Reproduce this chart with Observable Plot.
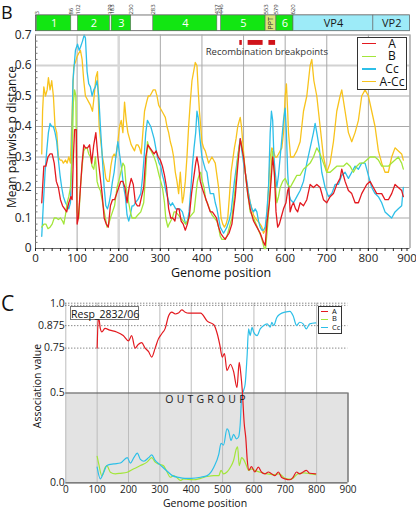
<!DOCTYPE html>
<html><head><meta charset="utf-8">
<script src="https://cdn.jsdelivr.net/npm/d3@7"></script>
<script src="https://cdn.jsdelivr.net/npm/@observablehq/plot@0.6"></script>
<style>
body{margin:0;background:#fff;font-family:"Open Sans",sans-serif;}
#wrap{position:relative;width:416px;height:508px;overflow:hidden;background:#fff;}
#wrap > *{position:absolute;}
.lbl{white-space:nowrap;line-height:1;color:#111;}
</style></head><body><div id="wrap"></div>
<script>
// ---------- Panel B data ----------
const distA = [[15,0.15],[20,0.27],[25,0.27],[30,0.30],[35,0.31],[40,0.31],[45,0.28],[50,0.22],[55,0.20],[60,0.16],[65,0.14],[70,0.13],[75,0.12],[80,0.15],[85,0.17],[88,0.16],[91,0.30],[94,0.39],[98,0.39],[100,0.08],[103,0.10],[107,0.18],[112,0.28],[116,0.34],[120,0.33],[125,0.33],[130,0.34],[135,0.28],[140,0.34],[145,0.38],[150,0.30],[155,0.24],[160,0.18],[165,0.10],[170,0.08],[175,0.07],[180,0.14],[185,0.16],[190,0.16],[195,0.18],[200,0.20],[205,0.22],[210,0.22],[215,0.20],[220,0.15],[225,0.20],[230,0.23],[235,0.21],[240,0.15],[245,0.14],[250,0.14],[255,0.17],[260,0.20],[265,0.30],[270,0.34],[275,0.33],[280,0.32],[285,0.31],[290,0.32],[295,0.30],[300,0.29],[305,0.27],[310,0.24],[315,0.20],[320,0.13],[325,0.10],[330,0.10],[335,0.09],[340,0.13],[345,0.13],[350,0.09],[355,0.08],[360,0.06],[365,0.08],[370,0.11],[375,0.18],[380,0.23],[385,0.28],[388,0.30],[392,0.27],[396,0.22],[400,0.20],[405,0.18],[410,0.16],[415,0.14],[420,0.12],[425,0.12],[430,0.11],[435,0.10],[440,0.07],[445,0.05],[450,0.04],[456,0.03],[460,0.04],[465,0.05],[472,0.08],[480,0.17],[486,0.27],[492,0.36],[496,0.33],[500,0.30],[505,0.24],[510,0.18],[516,0.13],[524,0.09],[532,0.07],[540,0.05],[548,0.02],[552,0.01],[556,0.08],[562,0.15],[566,0.22],[570,0.30],[574,0.25],[578,0.12],[582,0.07],[586,0.08],[590,0.10],[596,0.13],[602,0.15],[606,0.19],[609,0.20],[612,0.12],[616,0.14],[620,0.15],[625,0.13],[630,0.12],[636,0.15],[644,0.14],[652,0.16],[660,0.21],[668,0.20],[676,0.21],[684,0.20],[692,0.16],[700,0.15],[708,0.17],[716,0.18],[724,0.21],[732,0.23],[736,0.26],[744,0.22],[752,0.19],[760,0.18],[768,0.15],[776,0.15],[784,0.18],[796,0.21],[804,0.22],[812,0.20],[820,0.18],[832,0.18],[840,0.16],[848,0.16],[856,0.18],[864,0.21],[872,0.20],[880,0.19],[884,0.17]];
const distB = [[15,0.07],[20,0.08],[25,0.08],[30,0.065],[35,0.07],[40,0.08],[45,0.10],[50,0.10],[55,0.095],[60,0.10],[65,0.09],[68,0.08],[72,0.11],[76,0.15],[80,0.17],[84,0.20],[88,0.30],[91,0.48],[94,0.52],[97,0.50],[100,0.12],[104,0.10],[108,0.20],[112,0.27],[116,0.32],[120,0.33],[124,0.33],[128,0.31],[132,0.30],[136,0.27],[140,0.26],[144,0.30],[148,0.22],[152,0.20],[156,0.19],[160,0.16],[164,0.13],[168,0.10],[172,0.07],[176,0.08],[180,0.10],[185,0.12],[190,0.14],[196,0.20],[200,0.22],[205,0.25],[210,0.28],[214,0.27],[218,0.20],[224,0.15],[228,0.12],[232,0.10],[240,0.10],[246,0.11],[253,0.12],[260,0.15],[265,0.25],[269,0.35],[273,0.33],[278,0.32],[285,0.30],[290,0.28],[297,0.24],[305,0.20],[310,0.15],[313,0.10],[318,0.07],[321,0.08],[325,0.09],[329,0.10],[333,0.12],[337,0.12],[343,0.11],[349,0.10],[355,0.09],[361,0.08],[365,0.09],[369,0.10],[375,0.11],[381,0.12],[385,0.17],[389,0.22],[393,0.24],[397,0.25],[401,0.22],[405,0.20],[409,0.16],[413,0.15],[418,0.13],[424,0.11],[430,0.10],[436,0.09],[440,0.07],[444,0.04],[448,0.03],[454,0.03],[460,0.04],[466,0.07],[472,0.10],[480,0.20],[486,0.30],[490,0.34],[494,0.35],[498,0.32],[502,0.28],[508,0.20],[516,0.12],[524,0.10],[530,0.08],[536,0.06],[542,0.04],[546,0.02],[550,0.0],[553,0.0],[557,0.06],[562,0.15],[566,0.25],[569,0.32],[573,0.26],[577,0.20],[580,0.15],[584,0.17],[588,0.20],[594,0.22],[600,0.23],[606,0.21],[612,0.20],[620,0.22],[628,0.24],[636,0.24],[644,0.26],[652,0.27],[660,0.28],[668,0.30],[676,0.33],[684,0.31],[692,0.28],[700,0.25],[708,0.25],[716,0.26],[724,0.27],[732,0.27],[740,0.27],[748,0.28],[756,0.27],[764,0.25],[772,0.27],[780,0.28],[788,0.28],[796,0.29],[804,0.30],[816,0.30],[824,0.29],[832,0.27],[840,0.27],[848,0.27],[856,0.28],[864,0.29],[872,0.30],[880,0.28],[884,0.26]];
const distCc = [[15,0.04],[19,0.15],[23,0.25],[27,0.32],[31,0.38],[35,0.41],[39,0.40],[43,0.40],[47,0.38],[51,0.35],[55,0.29],[59,0.24],[63,0.20],[67,0.17],[72,0.15],[76,0.14],[80,0.13],[84,0.15],[87,0.30],[90,0.55],[93,0.60],[96,0.65],[101,0.67],[105,0.65],[108,0.66],[113,0.68],[117,0.70],[120,0.69],[124,0.58],[128,0.54],[132,0.53],[136,0.50],[140,0.52],[144,0.53],[148,0.55],[152,0.50],[156,0.40],[160,0.31],[165,0.20],[169,0.14],[173,0.13],[177,0.15],[181,0.18],[185,0.22],[189,0.25],[193,0.30],[198,0.35],[203,0.30],[208,0.25],[212,0.20],[216,0.17],[220,0.11],[224,0.09],[228,0.11],[232,0.14],[236,0.14],[240,0.15],[246,0.16],[253,0.18],[257,0.23],[261,0.30],[265,0.38],[269,0.42],[273,0.41],[277,0.40],[281,0.38],[285,0.36],[289,0.33],[293,0.30],[297,0.28],[301,0.27],[305,0.24],[309,0.22],[313,0.19],[317,0.17],[321,0.15],[325,0.14],[329,0.15],[333,0.14],[337,0.13],[341,0.13],[347,0.13],[353,0.12],[357,0.10],[361,0.08],[365,0.09],[369,0.12],[373,0.19],[377,0.27],[381,0.33],[385,0.38],[388,0.45],[391,0.43],[396,0.35],[400,0.30],[404,0.28],[408,0.26],[412,0.25],[416,0.21],[420,0.18],[428,0.18],[432,0.15],[436,0.13],[440,0.10],[444,0.07],[448,0.06],[452,0.05],[456,0.06],[460,0.07],[465,0.09],[470,0.12],[474,0.17],[478,0.22],[482,0.26],[486,0.30],[490,0.34],[492,0.36],[496,0.32],[500,0.28],[504,0.25],[508,0.22],[512,0.18],[516,0.15],[520,0.13],[524,0.12],[528,0.13],[532,0.12],[536,0.09],[540,0.07],[544,0.06],[548,0.06],[552,0.07],[556,0.12],[560,0.20],[564,0.38],[567,0.45],[570,0.42],[573,0.30],[576,0.25],[580,0.20],[584,0.24],[588,0.30],[592,0.36],[596,0.42],[600,0.46],[603,0.38],[606,0.25],[609,0.18],[613,0.16],[620,0.15],[628,0.17],[636,0.19],[644,0.22],[652,0.28],[660,0.33],[668,0.38],[672,0.41],[676,0.38],[682,0.33],[688,0.25],[696,0.20],[704,0.17],[712,0.18],[720,0.21],[728,0.21],[736,0.24],[744,0.25],[752,0.23],[760,0.25],[768,0.27],[776,0.26],[784,0.28],[792,0.28],[800,0.24],[808,0.20],[816,0.18],[824,0.17],[832,0.15],[840,0.12],[848,0.11],[856,0.10],[864,0.12],[872,0.13],[880,0.14],[884,0.20]];
const distACc = [[15,0.31],[17,0.45],[20,0.53],[24,0.50],[28,0.52],[31,0.56],[35,0.52],[39,0.55],[43,0.50],[47,0.40],[51,0.38],[55,0.30],[59,0.29],[63,0.29],[67,0.28],[72,0.29],[76,0.28],[80,0.30],[84,0.28],[88,0.45],[92,0.60],[96,0.61],[100,0.63],[104,0.64],[108,0.65],[112,0.62],[116,0.55],[120,0.50],[124,0.49],[128,0.48],[132,0.47],[137,0.45],[141,0.50],[145,0.56],[149,0.58],[153,0.40],[157,0.35],[161,0.30],[165,0.27],[169,0.23],[173,0.22],[177,0.22],[181,0.27],[185,0.30],[189,0.31],[193,0.30],[198,0.35],[202,0.40],[206,0.42],[210,0.38],[214,0.48],[218,0.42],[222,0.38],[226,0.36],[230,0.34],[234,0.33],[238,0.32],[242,0.34],[246,0.34],[250,0.33],[254,0.31],[258,0.38],[262,0.45],[267,0.48],[271,0.50],[275,0.50],[279,0.51],[283,0.52],[288,0.52],[292,0.50],[296,0.47],[300,0.46],[304,0.45],[308,0.44],[312,0.43],[316,0.40],[320,0.38],[324,0.35],[328,0.33],[332,0.30],[336,0.25],[340,0.22],[344,0.18],[348,0.25],[353,0.15],[356,0.17],[360,0.22],[364,0.30],[368,0.40],[372,0.48],[376,0.55],[380,0.58],[384,0.61],[388,0.60],[391,0.52],[394,0.45],[397,0.40],[400,0.35],[404,0.33],[408,0.32],[412,0.30],[416,0.28],[420,0.29],[424,0.30],[428,0.29],[432,0.28],[436,0.24],[440,0.20],[443,0.15],[446,0.10],[450,0.08],[454,0.07],[458,0.08],[462,0.10],[466,0.17],[470,0.25],[474,0.29],[478,0.33],[482,0.36],[486,0.40],[490,0.42],[492,0.43],[495,0.40],[498,0.35],[501,0.30],[504,0.25],[508,0.21],[512,0.18],[516,0.15],[520,0.13],[524,0.11],[528,0.10],[534,0.09],[540,0.08],[544,0.07],[548,0.05],[552,0.06],[556,0.10],[560,0.20],[564,0.30],[568,0.33],[572,0.32],[576,0.30],[580,0.30],[584,0.31],[588,0.32],[592,0.33],[596,0.38],[600,0.50],[603,0.54],[606,0.45],[608,0.38],[613,0.30],[620,0.30],[628,0.32],[636,0.35],[644,0.45],[652,0.50],[660,0.60],[664,0.62],[669,0.55],[676,0.50],[684,0.40],[692,0.30],[700,0.25],[708,0.28],[716,0.35],[724,0.45],[732,0.50],[736,0.52],[744,0.45],[752,0.38],[760,0.35],[768,0.38],[776,0.42],[784,0.50],[792,0.52],[800,0.50],[808,0.45],[816,0.40],[824,0.32],[832,0.28],[840,0.25],[848,0.25],[856,0.30],[864,0.33],[872,0.32],[880,0.31],[884,0.29]];
const xTicks = [0,100,200,300,400,500,600,700,800,900];
const yTicksB = [0,0.1,0.2,0.3,0.4,0.5,0.6,0.7];
// genome map
const mapNames = ["1","2","3","4","5","PPT","6","VP4","VP2"];
const mapStart = [3,102,183,283,446,553,579,620,812];
const mapEnd   = [86,179,230,437,553,579,620,812,900];
const mapPositions = [3,86,102,179,183,230,283,437,446,553,579,620];
const recombStart = [491,511,561];
const recombEnd   = [497,547,577];

// ---------- Panel C data ----------
const assocA = [[100,0.75],[104,0.93],[110,0.86],[115,0.84],[125,0.86],[140,0.85],[162,0.84],[183,0.82],[200,0.79],[210,0.82],[221,0.75],[231,0.77],[242,0.78],[253,0.75],[264,0.73],[274,0.70],[285,0.75],[295,0.80],[306,0.83],[317,0.86],[328,0.93],[338,0.95],[349,0.94],[359,0.945],[370,0.963],[381,0.95],[392,0.945],[430,0.945],[451,0.90],[472,0.88],[483,0.83],[491,0.77],[499,0.70],[506,0.72],[514,0.625],[525,0.66],[535,0.62],[546,0.53],[553,0.67],[558,0.61],[563,0.51],[569,0.33],[574,0.25],[579,0.12],[584,0.07],[592,0.09],[603,0.06],[614,0.087],[624,0.06],[635,0.05],[646,0.06],[656,0.05],[667,0.04],[678,0.06],[688,0.031],[699,0.022],[715,0.017],[725,0.031],[736,0.06],[746,0.05],[757,0.06],[767,0.069],[778,0.053],[797,0.05]];
const assocB = [[100,0.147],[105,0.105],[115,0.04],[126,0.087],[131,0.096],[142,0.059],[158,0.05],[174,0.053],[196,0.059],[217,0.078],[238,0.096],[259,0.115],[274,0.14],[285,0.115],[295,0.105],[311,0.096],[323,0.06],[333,0.031],[344,0.04],[355,0.028],[365,0.013],[376,0.022],[386,0.02],[408,0.017],[430,0.025],[451,0.035],[472,0.04],[488,0.04],[495,0.069],[503,0.05],[514,0.06],[525,0.087],[535,0.124],[544,0.19],[548,0.2],[553,0.096],[561,0.14],[567,0.13],[574,0.105],[583,0.069],[594,0.078],[603,0.069],[620,0.059],[640,0.05],[660,0.045],[680,0.05],[700,0.025],[720,0.02],[740,0.05],[760,0.055],[780,0.05],[797,0.045]];
const assocCc = [[100,0.087],[110,0.022],[121,0.059],[131,0.096],[153,0.105],[174,0.11],[196,0.14],[206,0.11],[217,0.14],[228,0.165],[238,0.13],[249,0.12],[264,0.14],[274,0.155],[285,0.125],[301,0.10],[320,0.07],[340,0.04],[360,0.03],[380,0.025],[400,0.025],[430,0.031],[451,0.04],[472,0.087],[488,0.16],[495,0.22],[503,0.21],[514,0.30],[519,0.29],[527,0.235],[535,0.27],[544,0.245],[551,0.255],[556,0.32],[561,0.48],[567,0.514],[572,0.55],[578,0.70],[583,0.857],[588,0.82],[594,0.866],[599,0.84],[610,0.82],[620,0.857],[631,0.876],[642,0.885],[652,0.866],[657,0.894],[663,0.876],[673,0.92],[684,0.94],[699,0.95],[715,0.955],[725,0.93],[736,0.876],[746,0.894],[757,0.885],[767,0.857],[778,0.885],[797,0.89]];
const yTicksC = [0,0.5,0.75,0.875,1];
const yTickLabelsC = ["0.0","0.5","0.75","0.875","1.0"];

// ---------- colours / styles ----------
const cA = "#e3191f", cB = "#a3e63a", cCc = "#2dbfe8", cACc = "#f8c31c";
const green = "#12e612", vp = "#9debf8", ppt = "#dbe57a";

const wrap = document.getElementById("wrap");
const segs = mapNames.map((n,i)=>({name:n, x1:mapStart[i], x2:mapEnd[i], kind: n==="PPT"?"ppt":(n.startsWith("VP")?"vp":"g")}));
const recomb = recombStart.map((s,i)=>({x1:s, x2:recombEnd[i]}));
const P = d=>d[0], V = d=>d[1];

// ---------- Panel B ----------
const plotB = Plot.plot({
  width: 416, height: 285, marginLeft: 35, marginRight: 6.5, marginTop: 4, marginBottom: 37,
  x: {domain:[0,900]}, y: {domain:[0,0.8]},
  style: {fontFamily:"Open Sans, sans-serif", fontSize:"11px", color:"#222", background:"transparent", overflow:"visible"},
  marks: [
    Plot.ruleY(yTicksB.filter(d=>d>0 && d!==0.6), {x1:0, x2:900, stroke:"#a9a9a9", strokeWidth:1}),
    Plot.ruleY([0.6], {x1:0, x2:900, stroke:"#d2d2d2", strokeWidth:2}),
    Plot.ruleX(xTicks.filter(d=>d>0 && d!==200), {y1:0, y2:0.7, stroke:"#a9a9a9", strokeWidth:1}),
    Plot.ruleX([200], {y1:0, y2:0.7, stroke:"#d8d8d8", strokeWidth:2.5}),
    Plot.ruleX([0], {y1:0, y2:0.7, stroke:"#666"}),
    Plot.ruleY([0], {x1:0, x2:900, stroke:"#666"}),
    Plot.ruleY(d3.range(1,35).map(i=>i*0.02).filter(d=>Math.abs(d*10-Math.round(d*10))>1e-6), {x1:0, x2:6, stroke:"#777"}),
    Plot.axisY(yTicksB, {tickSize:0, tickPadding:4, label:null, tickFormat:d=>d===0?"0":d.toFixed(1), fontSize:12}),
    Plot.axisX(xTicks.slice(0,-1), {tickSize:3, tickPadding:2, label:null, fontSize:11.5}),
    Plot.axisX(xTicks.slice(-1), {tickSize:3, tickPadding:2, label:null, fontSize:11.5, dx:-3}),
    Plot.axisX(d3.range(20,900,20), {tickSize:3, label:null, tickFormat:()=>""}),
    // genome map
    Plot.rect([0], {x1:1, x2:900, y1:0.7125, y2:0.764, fill:"#fff", stroke:"#555", strokeWidth:0.8}),
    Plot.rect(segs, {x1:"x1", x2:"x2", y1:0.7125, y2:0.764, fill:d=>d.kind==="g"?green:(d.kind==="vp"?vp:ppt), stroke:"#666", strokeWidth:0.6}),
    Plot.text(segs.filter(d=>d.kind==="g"), {x:d=>(d.x1+d.x2)/2, y:0.7385, text:"name", fill:"#fff", fontSize:11}),
    Plot.text(segs.filter(d=>d.kind==="vp"), {x:d=>(d.x1+d.x2)/2, y:0.7385, text:"name", fill:"#1a1a1a", fontSize:11}),
    Plot.text(segs.filter(d=>d.kind==="ppt"), {x:d=>(d.x1+d.x2)/2, y:0.7385, text:"name", fill:"#222", fontSize:7, rotate:-90}),
    Plot.text(mapPositions, {x:d=>d, y:0.767, text:d=>String(d), rotate:-90, textAnchor:"start", fontSize:6, fill:"#333"}),
    // recombination breakpoints
    Plot.rect(recomb, {x1:"x1", x2:"x2", y1:0.666, y2:0.682, fill:"#d0131a"}),
    Plot.text(["Recombination breakpoints"], {x:556, y:0.643, text:d=>d, fontSize:9.5, fill:"#333"}),
    // series
    Plot.line(distACc, {x:P, y:V, stroke:cACc, strokeWidth:1.3}),
    Plot.line(distCc, {x:P, y:V, stroke:cCc, strokeWidth:1.3}),
    Plot.line(distB, {x:P, y:V, stroke:cB, strokeWidth:1.3}),
    Plot.line(distA, {x:P, y:V, stroke:cA, strokeWidth:1.3}),
    Plot.ruleX([900], {y1:0, y2:0.7, stroke:"#a9a9a9"}),
    Plot.ruleY([0.7], {x1:0, x2:900, stroke:"#a9a9a9"})
  ]
});
plotB.style.left = "0px"; plotB.style.top = "0px";
wrap.appendChild(plotB);

// ---------- Panel C ----------
const plotC = Plot.plot({
  width: 416, height: 223, marginLeft: 65.3, marginRight: 68.5, marginTop: 17.7, marginBottom: 25.7,
  x: {domain:[0,900]}, y: {domain:[0,1]},
  style: {fontFamily:"Open Sans, sans-serif", fontSize:"10.5px", color:"#222", background:"transparent", overflow:"visible"},
  marks: [
    Plot.rect([0], {x1:0, x2:900, y1:0, y2:0.5, fill:"#e3e3e3"}),
    Plot.ruleX(xTicks.filter(d=>d>0 && d<900), {y1:0, y2:1, stroke:"#bdbdbd"}),
    Plot.ruleX([0], {y1:0, y2:1, stroke:"#bdbdbd"}),
    Plot.ruleY([0.75,0.875,1,0.988], {x1:0, x2:900, stroke:"#555", strokeDasharray:"1,2"}),
    Plot.ruleY([0.5,0], {x1:0, x2:900, stroke:"#555", strokeWidth:1.2}),
    Plot.ruleX([900], {y1:0, y2:0.5, stroke:"#555", strokeWidth:1.2}),
    Plot.axisY(yTicksC, {tickSize:0, tickPadding:1, label:null, tickFormat:d=>yTickLabelsC[yTicksC.indexOf(d)], fontSize:10.5}),
    Plot.axisX(xTicks, {tickSize:0, tickPadding:3, label:null, fontSize:10}),
    Plot.line(assocB, {x:P, y:V, stroke:cB, strokeWidth:1.2, curve:"monotone-x"}),
    Plot.line(assocCc, {x:P, y:V, stroke:cCc, strokeWidth:1.2, curve:"monotone-x"}),
    Plot.line(assocA, {x:P, y:V, stroke:cA, strokeWidth:1.2, curve:"monotone-x"})
  ]
});
plotC.style.left = "0px"; plotC.style.top = "285px";
wrap.appendChild(plotC);

// ---------- HTML text and legends ----------
function label(text, x, y, size, opts={}) {
  const d = document.createElement("div");
  d.className = "lbl";
  d.textContent = text;
  d.style.fontSize = size + "px";
  d.style.left = x + "px"; d.style.top = y + "px";
  d.style.transform = "translate(-50%,-50%)" + (opts.rotate ? " rotate(" + opts.rotate + "deg)" : "");
  if (opts.spacing) d.style.letterSpacing = opts.spacing + "px";
  if (opts.color) d.style.color = opts.color;
  wrap.appendChild(d);
  return d;
}
function corner(text, x, y, size) {
  const d = document.createElement("div");
  d.className = "lbl"; d.textContent = text;
  d.style.fontSize = size + "px"; d.style.left = x + "px"; d.style.top = y + "px";
  wrap.appendChild(d);
}
corner("B", 1, 3, 18);
corner("C", 1, 293, 21);
label("Mean pairwise p distance", 12, 137, 12, {rotate:-90});
label("Genome position", 221, 273, 12.5);
label("Association value", 37, 386, 10.5, {rotate:-90});
label("Genome position", 205, 502.5, 10.5);
label("OUTGROUP", 207, 399, 10.5, {spacing:3.2, color:"#222"});

// Resp box
const resp = document.createElement("div");
resp.className = "lbl";
resp.textContent = "Resp_2832/06";
Object.assign(resp.style, {left:"70px", top:"305.5px", width:"69px", height:"14px", border:"1px solid #777",
  background:"#fff", fontSize:"10.5px", lineHeight:"14px", textAlign:"center", boxSizing:"border-box"});
wrap.appendChild(resp);

// legend helper
function legend(items, box, rows, lineX, textX, size, center) {
  const b = document.createElement("div");
  Object.assign(b.style, {left:box[0]+"px", top:box[1]+"px", width:(box[2]-box[0])+"px", height:(box[3]-box[1])+"px",
    border:"1px solid #333", background:"#fff", boxSizing:"border-box"});
  wrap.appendChild(b);
  items.forEach((it,i)=>{
    const l = document.createElement("div");
    Object.assign(l.style, {left:lineX[0]+"px", top:(rows[i]-0.75)+"px", width:(lineX[1]-lineX[0])+"px", height:"1.5px", background:it.color});
    wrap.appendChild(l);
    if (center) label(it.name, textX, rows[i], size);
    else {
      const t = document.createElement("div");
      t.className = "lbl"; t.textContent = it.name;
      Object.assign(t.style, {left:textX+"px", top:rows[i]+"px", fontSize:size+"px", transform:"translate(0,-50%)"});
      wrap.appendChild(t);
    }
  });
}
legend([{name:"A",color:cA},{name:"B",color:cB},{name:"Cc",color:cCc},{name:"A-Cc",color:cACc}],
  [356.7,37,407.3,89.7], [43.5,56.3,69,81.5], [361.7,376], 392, 12, true);
legend([{name:"A",color:cA},{name:"B",color:cB},{name:"Cc",color:cCc}],
  [318,306,342,333.5], [311.7,319.3,327.5], [320.7,328.3], 332, 7.5, false);
</script></body></html>
